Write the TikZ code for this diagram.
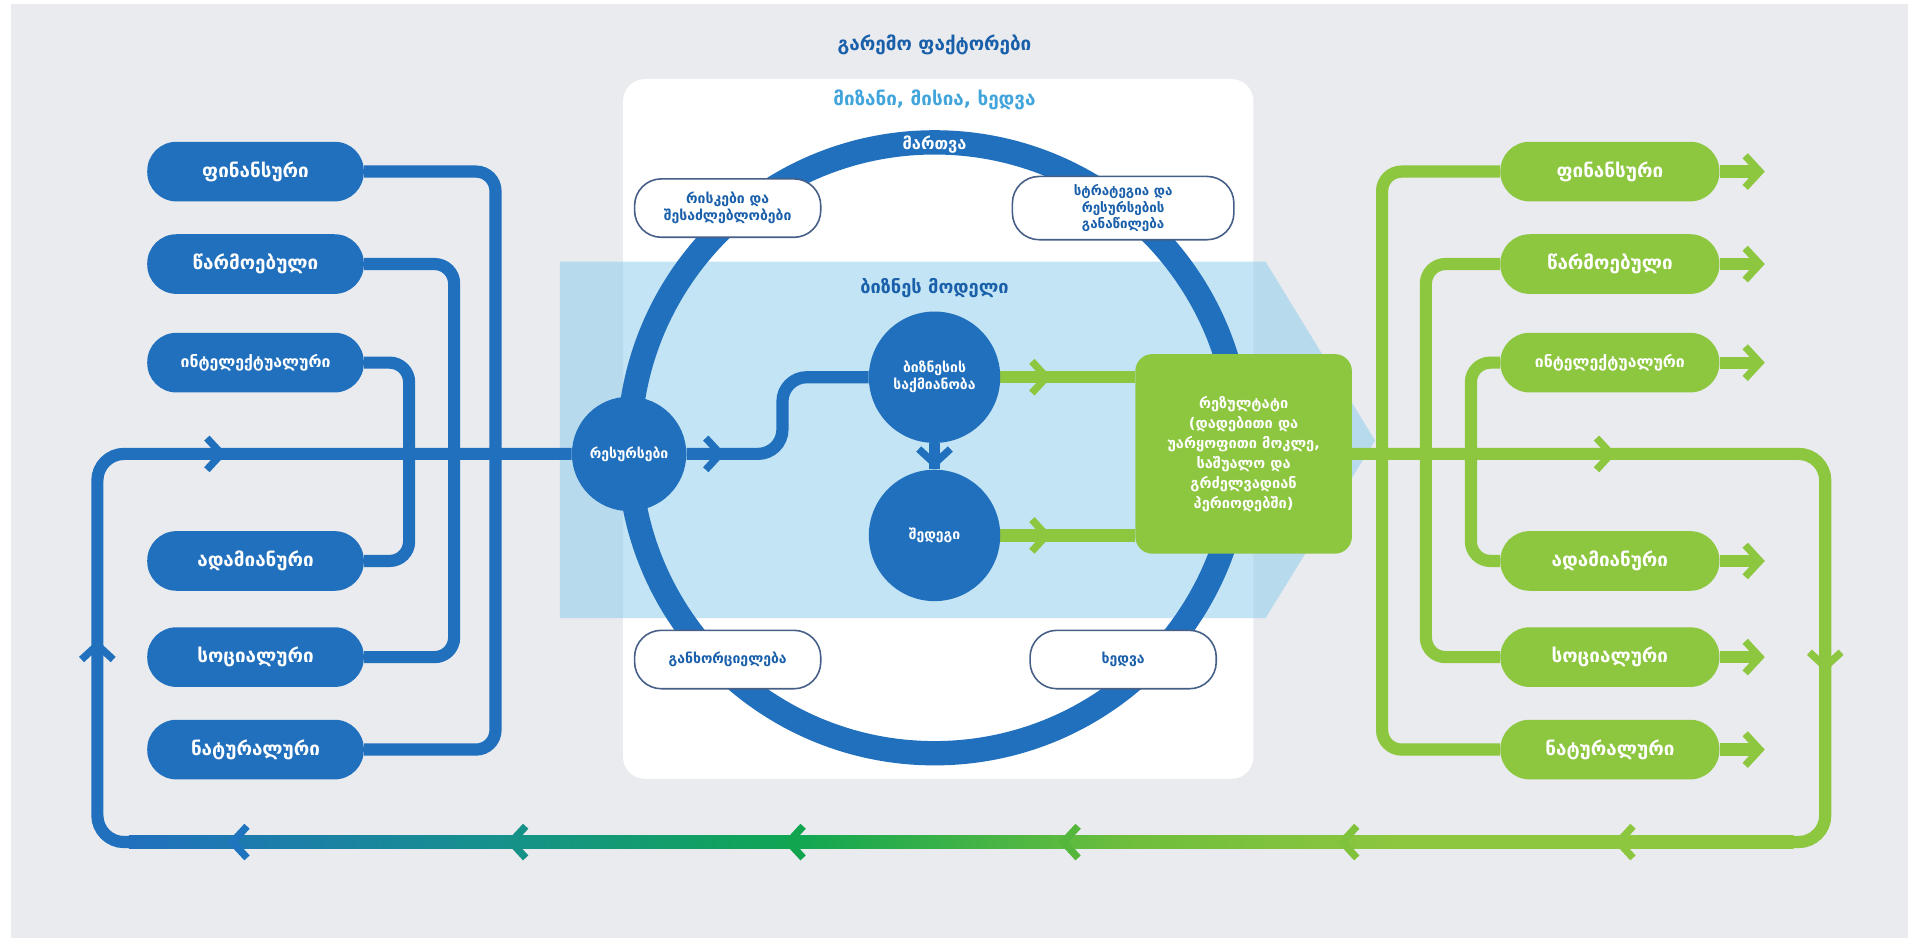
\documentclass[tikz,border=0pt]{standalone}
\usepackage{fontspec}
\setmainfont{DejaVu Sans}
\usetikzlibrary{calc}
\definecolor{bgray}{RGB}{233,235,238}
\definecolor{mblue}{RGB}{33,112,190}
\definecolor{mgreen}{RGB}{141,198,63}
\definecolor{mteal}{RGB}{22,145,140}
\definecolor{dgreen}{RGB}{16,166,82}
\definecolor{lgreen}{RGB}{110,190,60}
\definecolor{bandblue}{RGB}{135,202,235}
\definecolor{titleblue}{RGB}{25,95,170}
\definecolor{skyblue}{RGB}{65,165,220}
\definecolor{edgeblue}{RGB}{70,95,135}
\definecolor{cA}{RGB}{30,116,190}
\definecolor{cB}{RGB}{22,145,135}
\definecolor{cC}{RGB}{18,165,80}
\definecolor{cD}{RGB}{85,182,60}
\definecolor{cE}{RGB}{128,194,60}
\pgfdeclarehorizontalshading{loopgrad}{100bp}{color(0bp)=(mblue); color(25bp)=(mblue); color(36bp)=(mteal); color(45bp)=(dgreen); color(55bp)=(lgreen); color(63bp)=(mgreen); color(100bp)=(mgreen)}
\pgfdeclarelayer{back}
\pgfdeclarelayer{lines}
\pgfsetlayers{back,lines,main}
\begin{document}
\begin{tikzpicture}[x=1pt,y=-1pt,
  lbl/.style={font=\bfseries\fontsize{15.5}{18}\selectfont, text=white},
  lbox/.style={lbl, fill=mblue, rounded corners=24pt, minimum width=178pt, minimum height=49pt, inner sep=0pt},
  rbox/.style={lbox, fill=mgreen, minimum width=180pt},
  smalllbl/.style={font=\bfseries\fontsize{13}{15}\selectfont},
  wbox/.style={draw=edgeblue, line width=1.3pt, fill=white, rounded corners=22pt, minimum width=153pt, minimum height=48pt, inner sep=2pt, align=center, text=titleblue, font=\bfseries\fontsize{11.5}{14}\selectfont},
  bcirc/.style={circle, fill=mblue, inner sep=0pt, text=white, align=center, font=\bfseries\fontsize{11.5}{14}\selectfont},
  bline/.style={draw=mblue, line width=10pt},
  gline/.style={draw=mgreen, line width=10pt},
  resstyle/.style={fill=mgreen, rounded corners=14pt, minimum width=178pt, minimum height=164pt, align=center, text=white, font=\bfseries\fontsize{12}{16.5}\selectfont, inner sep=0pt},
  chev/.pic={\draw[pic actions, line width=6pt] (-12,-13) -- (0,0) -- (-12,13);}
]
\useasboundingbox (0,0) rectangle (1568,771);

% ---------- nodes ----------
\node[font=\bfseries\fontsize{15.5}{18}\selectfont, text=titleblue] (title) at (768,37) {გარემო ფაქტორები};
\node[font=\bfseries\fontsize{15.5}{18}\selectfont, text=skyblue] (mission) at (768,82) {მიზანი, მისია, ხედვა};
\node[font=\bfseries\fontsize{13.5}{16}\selectfont, text=white] (mgmt) at (768,119) {მართვა};
\node[font=\bfseries\fontsize{15}{18}\selectfont, text=titleblue] (bm) at (768,237) {ბიზნეს მოდელი};

\node[wbox] (risk) at (598,171) {რისკები და\\შესაძლებლობები};
\node[wbox, minimum width=182pt, minimum height=52pt, font=\bfseries\fontsize{11}{13.5}\selectfont] (strat) at (923,171) {სტრატეგია და\\რესურსების\\განაწილება};
\node[wbox] (impl) at (598,542) {განხორციელება};
\node[wbox] (vis) at (923,542) {ხედვა};

\node[bcirc, minimum size=94pt] (res) at (517,373) {რესურსები};
\node[bcirc, minimum size=108pt] (act) at (768,310) {ბიზნესის\\საქმიანობა};
\node[bcirc, minimum size=108pt] (out) at (768,440) {შედეგი};
\node[resstyle] (resbox) at (1022,373) {რეზულტატი\\(დადებითი და\\უარყოფითი მოკლე,\\საშუალო და\\გრძელვადიან\\პერიოდებში)};

\node[lbox] (L1) at (210,141) {ფინანსური};
\node[lbox] (L2) at (210,217) {წარმოებული};
\node[lbox, smalllbl] (L3) at (210,298) {ინტელექტუალური};
\node[lbox] (L4) at (210,461) {ადამიანური};
\node[lbox] (L5) at (210,540) {სოციალური};
\node[lbox] (L6) at (210,616) {ნატურალური};

\node[rbox] (R1) at (1323,141) {ფინანსური};
\node[rbox] (R2) at (1323,217) {წარმოებული};
\node[rbox, smalllbl] (R3) at (1323,298) {ინტელექტუალური};
\node[rbox] (R4) at (1323,461) {ადამიანური};
\node[rbox] (R5) at (1323,540) {სოციალური};
\node[rbox] (R6) at (1323,616) {ნატურალური};

% chevrons
\pic[draw=mblue] at (182,373) {chev};
\pic[draw=mblue, rotate=90] at (80,530) {chev};
\pic[draw=mblue] at (592,373) {chev};
\pic[draw=mblue, rotate=-90] at (768,381) {chev};
\pic[draw=mgreen] at (860,310) {chev};
\pic[draw=mgreen] at (860,440) {chev};
\pic[draw=mgreen] at (1324,373) {chev};
\pic[draw=mgreen, rotate=-90] at (1500,548) {chev};
\pic[draw=mgreen, rotate=180] at (1330,692) {chev};
\pic[draw=cE, rotate=180] at (1103,692) {chev};
\pic[draw=cD, rotate=180] at (874,692) {chev};
\pic[draw=cC, rotate=180] at (648,692) {chev};
\pic[draw=cB, rotate=180] at (420,692) {chev};
\pic[draw=cA, rotate=180] at (191,692) {chev};
\foreach \n in {R1,R2,R3,R4,R5,R6}{
  \pic[draw=mgreen] at ($(\n.east)+(33,0)$) {chev};
}

% ---------- background shapes ----------
\begin{pgfonlayer}{back}
\fill[white] (0,0) rectangle (1568,771);
\fill[bgray] (9,3) rectangle (1568,771);
\fill[white, rounded corners=18pt] (512,65) rectangle (1030,640);
\fill[bandblue, opacity=0.5] (460,215) -- (1040,215) -- (1130,362) -- (1040,508) -- (460,508) -- cycle;
\draw[mblue, line width=20pt] (768,368) circle[radius=251];
\end{pgfonlayer}

% ---------- connectors ----------
\coordinate (gtr) at (1500,373);
\coordinate (gbr) at (1500,692);
\coordinate (gend) at (1468,692);
\coordinate (bstart) at (112,692);
\coordinate (bbl) at (80,692);
\coordinate (btl) at (80,373);
\coordinate (sbend) at (643,373);
\begin{pgfonlayer}{lines}
\draw[gline, rounded corners=22pt] (resbox.east) -- (gtr) -- (gbr) -- (gend);
\shade[shading=loopgrad] (106,687) rectangle (1474,697);
\draw[bline, rounded corners=22pt] (bstart) -- (bbl) -- (btl) -- (res.west);

\draw[bline, rounded corners=16pt] (L1.east) -- ++(108,0) |- (L6.east);
\draw[bline, rounded corners=16pt] (L2.east) -- ++(74,0) |- (L5.east);
\draw[bline, rounded corners=16pt] (L3.east) -- ++(37,0) |- (L4.east);

\draw[gline, rounded corners=16pt] (R1.west) -- ++(-97,0) |- (R6.west);
\draw[gline, rounded corners=16pt] (R2.west) -- ++(-61,0) |- (R5.west);
\draw[gline, rounded corners=16pt] (R3.west) -- ++(-24,0) |- (R4.west);
\foreach \n in {R1,R2,R3,R4,R5,R6}{
  \draw[gline] (\n.east) -- ++(30,0);
}

\draw[bline, rounded corners=20pt] (res.east) -- (sbend) |- (act.west);
\draw[draw=mblue, line width=9pt] (act.south) -- (out.north);
\draw[gline] (act.east) -- (act.east -| resbox.west);
\draw[gline] (out.east) -- (out.east -| resbox.west);
\end{pgfonlayer}
\end{tikzpicture}
\end{document}
